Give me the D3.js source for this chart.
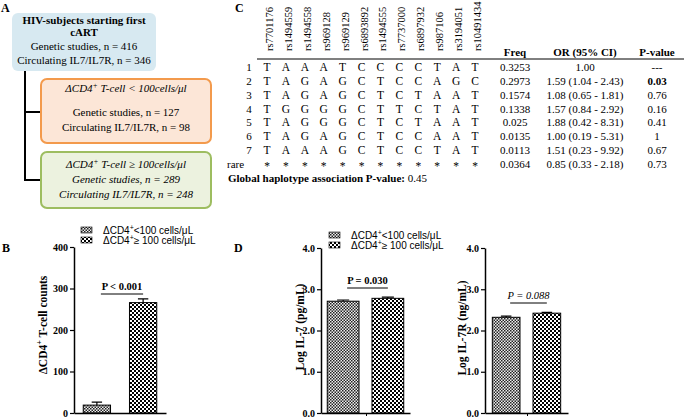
<!DOCTYPE html>
<html>
<head>
<meta charset="utf-8">
<script src="https://cdn.jsdelivr.net/npm/d3@7"></script>
<style>
  body { margin: 0; background: #fff; }
  svg { display: block; }
  text { fill: #000; }
</style>
</head>
<body>
<svg id="fig" width="685" height="418"></svg>
<script>
'use strict';

/* global d3 */

// panel A - study flow boxes
var flowTop = ['HIV-subjects starting first', 'cART', 'Genetic studies, n = 416', 'Circulating IL7/IL7R, n = 346'];
var flowLow = ['< 100cells/\u03bcl', 'Genetic studies, n = 127', 'Circulating IL7/IL7R, n = 98'];
var flowHigh = ['\u2265 100cells/\u03bcl', 'Genetic studies, n = 289', 'Circulating IL7/IL7R, n = 248'];

// panel C - haplotype table
var snps = ['rs7701176', 'rs1494559', 'rs1494558', 'rs969128', 'rs969129', 'rs6893892',
  'rs1494555', 'rs7737000', 'rs6897932', 'rs987106', 'rs3194051', 'rs10491434'];
var haploLabels = ['1', '2', '3', '4', '5', '6', '7', 'rare'];
var haplotypes = [
  'TAAATCCCCTAT',
  'TAGAGCTCCAGC',
  'TAGAGCTCTAAT',
  'TGGGGCTTCTAT',
  'TAGGGCTCTAAT',
  'TAGAGCTCCAAT',
  'TAAAGCTCCTAT',
  '************'
];
var haploFreq = ['0.3253', '0.2973', '0.1574', '0.1338', '0.025', '0.0135', '0.0113', '0.0364'];
var haploOR = ['1.00', '1.59 (1.04 - 2.43)', '1.08 (0.65 - 1.81)', '1.57 (0.84 - 2.92)',
  '1.88 (0.42 - 8.31)', '1.00 (0.19 - 5.31)', '1.51 (0.23 - 9.92)', '0.85 (0.33 - 2.18)'];
var haploP = ['---', '0.03', '0.76', '0.16', '0.41', '1', '0.67', '0.73'];
var globalP = '0.45';

// panels B and D - bar charts
var groups = ['<100', '>=100'];
var legendTail = ['<100 cells/\u03bcL', '\u2265 100 cells/\u03bcL'];
var cd4Means = [19, 266];
var cd4Errors = [7, 9];
var cd4Ticks = [0, 100, 200, 300, 400];
var il7Means = [2.71, 2.78];
var il7Errors = [0.03, 0.03];
var il7rMeans = [2.32, 2.42];
var il7rErrors = [0.03, 0.02];
var logTicks = [0, 1, 2, 3, 4];

var SERIF = '"Liberation Serif", "Times New Roman", serif';
var SANS = '"Liberation Sans", Arial, sans-serif';

var svg = d3.select('#fig');

/*
 * fill patterns
 */
var defs = svg.append('defs');

// fine checker (reads as grey)
var fine = defs.append('pattern')
  .attr('id', 'fine').attr('patternUnits', 'userSpaceOnUse')
  .attr('width', 3).attr('height', 3);
fine.append('rect').attr('width', 3).attr('height', 3).attr('fill', '#eee');
fine.append('rect').attr('width', 1.5).attr('height', 1.5).attr('fill', '#222');
fine.append('rect').attr('x', 1.5).attr('y', 1.5).attr('width', 1.5).attr('height', 1.5).attr('fill', '#222');

// coarse checker
var coarse = defs.append('pattern')
  .attr('id', 'coarse').attr('patternUnits', 'userSpaceOnUse')
  .attr('width', 4).attr('height', 4);
coarse.append('rect').attr('width', 4).attr('height', 4).attr('fill', '#fff');
coarse.append('rect').attr('width', 2).attr('height', 2).attr('fill', '#000');
coarse.append('rect').attr('x', 2).attr('y', 2).attr('width', 2).attr('height', 2).attr('fill', '#000');

var fills = ['url(#fine)', 'url(#coarse)'];

// panel letters
function panelLetter(t, x, y) {
  svg.append('text').attr('x', x).attr('y', y)
    .style('font', 'bold 12px ' + SERIF).text(t);
}
panelLetter('A', 1, 12);
panelLetter('C', 235, 12);
panelLetter('B', 2, 252);
panelLetter('D', 234, 252);

// write "ΔCD4+" with a raised plus into a text element
function deltaCD4(sel, size) {
  sel.append('tspan').text('\u0394CD4');
  sel.append('tspan').attr('dy', -size * 0.4).style('font-size', (size * 0.7) + 'px').text('+');
  return sel.append('tspan').attr('dy', size * 0.4);
}

/*
 * panel A
 */
var gA = svg.append('g');

// connector lines
gA.append('path')
  .attr('d', 'M25,71V180H40M25,112H40')
  .attr('fill', 'none').attr('stroke', '#000').attr('stroke-width', 2);

gA.append('rect').attr('x', 12).attr('y', 13).attr('width', 144).attr('height', 58)
  .attr('rx', 6).attr('fill', '#d7e9f1');
gA.selectAll('text.top').data(flowTop).enter().append('text')
  .attr('class', 'top')
  .attr('x', 84).attr('y', function(d, i) { return [24, 36, 50, 64][i]; })
  .attr('text-anchor', 'middle')
  .style('font', function(d, i) { return (i < 2 ? 'bold ' : '') + '11px ' + SERIF; })
  .text(function(d) { return d; });

function flowBox(lines, y, h, fill, stroke, italic) {
  gA.append('rect').attr('x', 41).attr('y', y).attr('width', 170).attr('height', h)
    .attr('rx', 6).attr('fill', fill).attr('stroke', stroke).attr('stroke-width', 2);
  lines.forEach(function(line, i) {
    var t = gA.append('text')
      .attr('x', 126).attr('y', italic ? y + 16 + i * 15 : y + 13 + i * 15 + (i > 0 ? 9 : 0))
      .attr('text-anchor', 'middle')
      .style('font', (italic || i === 0 ? 'italic ' : '') + '11px ' + SERIF);
    if (i === 0) {
      deltaCD4(t, 11).text(' T-cell ' + line);
    } else {
      t.text(line);
    }
  });
}
flowBox(flowLow, 79, 64, '#fce6d7', '#f39a4c', false);
flowBox(flowHigh, 152, 56, '#ecf2df', '#9dbd60', true);

/*
 * panel C
 */
var gC = svg.append('g');
var colX = d3.scalePoint().domain(snps).range([267, 475]);
var rowY = d3.scalePoint().domain(haploLabels).range([71, 168]);
var statX = { freq: 515, or: 585, p: 657 };

gC.selectAll('text.snp').data(snps).enter().append('text')
  .attr('class', 'snp')
  .attr('transform', function(d) { return 'translate(' + (colX(d) + 6) + ',51) rotate(-90)'; })
  .style('font', '10.5px ' + SERIF)
  .text(function(d) { return d; });

gC.selectAll('text.head').data([['Freq', statX.freq], ['OR (95% CI)', statX.or], ['P-value', statX.p]])
  .enter().append('text')
  .attr('class', 'head')
  .attr('x', function(d) { return d[1]; }).attr('y', 56)
  .attr('text-anchor', 'middle')
  .style('font', 'bold 11px ' + SERIF)
  .text(function(d) { return d[0]; });

gC.append('line')
  .attr('x1', 257).attr('x2', 684).attr('y1', 59).attr('y2', 59)
  .attr('stroke', '#000').attr('stroke-width', 1);

var rows = gC.selectAll('g.row').data(haploLabels).enter().append('g')
  .attr('class', 'row')
  .attr('transform', function(d) { return 'translate(0,' + rowY(d) + ')'; });

rows.append('text')
  .attr('x', function(d) { return d === 'rare' ? 227 : 249; })
  .attr('text-anchor', function(d) { return d === 'rare' ? 'start' : 'middle'; })
  .style('font', '11px ' + SERIF)
  .text(function(d) { return d; });

rows.selectAll('text.allele')
  .data(function(d, i) { return haplotypes[i].split(''); })
  .enter().append('text')
  .attr('class', 'allele')
  .attr('x', function(d, j) { return colX(snps[j]); })
  .attr('dy', function(d) { return d === '*' ? 2 : 0; })
  .attr('text-anchor', 'middle')
  .style('font', '11.5px ' + SERIF)
  .text(function(d) { return d; });

rows.append('text')
  .attr('x', statX.freq).attr('text-anchor', 'middle')
  .style('font', '11px ' + SERIF)
  .text(function(d, i) { return haploFreq[i]; });
rows.append('text')
  .attr('x', statX.or).attr('text-anchor', 'middle')
  .style('font', '11px ' + SERIF)
  .text(function(d, i) { return haploOR[i]; });
rows.append('text')
  .attr('x', statX.p).attr('text-anchor', 'middle')
  .style('font', function(d, i) { return (+haploP[i] < 0.05 ? 'bold ' : '') + '11px ' + SERIF; })
  .text(function(d, i) { return haploP[i]; });

var gl = gC.append('text').attr('x', 228).attr('y', 182).style('font', '11px ' + SERIF);
gl.append('tspan').style('font-weight', 'bold').text('Global haplotype association P-value:');
gl.append('tspan').text(' ' + globalP);

/*
 * panels B and D - bar charts
 */
function legend(x, y) {
  groups.forEach(function(g, i) {
    svg.append('rect')
      .attr('x', x).attr('y', y + i * 10).attr('width', 11).attr('height', 6)
      .attr('fill', fills[i]).attr('stroke', '#000').attr('stroke-width', 0.6);
    var t = svg.append('text')
      .attr('x', x + 22).attr('y', y + 7 + i * 10)
      .style('font', '10px ' + SANS);
    deltaCD4(t, 10).text(legendTail[i]);
  });
}

function barChart(opt) {
  var g = svg.append('g');

  var x = d3.scaleBand().domain(groups)
    .range(opt.xRange).paddingInner(opt.padIn).paddingOuter(opt.padOut);
  var y = d3.scaleLinear().domain([0, opt.ticks[opt.ticks.length - 1]]).range([413, opt.yTop]);

  // bars
  g.selectAll('rect.bar').data(opt.means).enter().append('rect')
    .attr('class', 'bar')
    .attr('x', function(d, i) { return x(groups[i]); })
    .attr('y', function(d) { return y(d); })
    .attr('width', x.bandwidth())
    .attr('height', function(d) { return y(0) - y(d); })
    .attr('fill', function(d, i) { return fills[i]; })
    .attr('stroke', '#000').attr('stroke-width', 1);

  // error bars (upper only)
  var capW = x.bandwidth() * 0.38;
  opt.means.forEach(function(m, i) {
    var cx = x(groups[i]) + x.bandwidth() / 2;
    g.append('path')
      .attr('d', 'M' + cx + ',' + y(m) + 'V' + y(m + opt.errors[i]) +
        'M' + (cx - capW / 2) + ',' + y(m + opt.errors[i]) + 'H' + (cx + capW / 2))
      .attr('fill', 'none').attr('stroke', '#000').attr('stroke-width', 1.2);
  });

  // axes
  var yAxis = g.append('g')
    .attr('transform', 'translate(' + opt.xRange[0] + ',0)')
    .call(d3.axisLeft(y).tickValues(opt.ticks).tickSize(4).tickSizeOuter(0).tickPadding(2));
  yAxis.select('.domain').attr('stroke-width', 1.5);
  yAxis.selectAll('.tick line').attr('stroke-width', 1.2);
  yAxis.selectAll('.tick text').style('font', 'bold 10px ' + SERIF).attr('fill', '#000');

  var xAxis = g.append('g')
    .attr('transform', 'translate(0,413)')
    .call(d3.axisBottom(x).tickValues([]).tickSizeOuter(0));
  xAxis.select('.domain').attr('stroke-width', 1.5);
  if (opt.midTick) {
    var mid = (opt.xRange[0] + opt.xRange[1]) / 2 + 1;
    g.append('line').attr('x1', mid).attr('x2', mid).attr('y1', 413).attr('y2', 416)
      .attr('stroke', '#000').attr('stroke-width', 1);
  }

  // y label
  var lab = g.append('text')
    .attr('transform', 'translate(' + opt.labelX + ',' + opt.labelY + ') rotate(-90)')
    .attr('text-anchor', 'middle')
    .style('font', 'bold 11.5px ' + SERIF);
  if (opt.cd4Label) {
    deltaCD4(lab, 11.5).text(' T-cell counts');
  } else {
    lab.text(opt.label);
  }

  // significance line
  var c0 = x(groups[0]) + x.bandwidth() / 2 + 4;
  var c1 = x(groups[1]) + x.bandwidth() / 2;
  g.append('line')
    .attr('x1', c0).attr('x2', c1).attr('y1', opt.pY).attr('y2', opt.pY)
    .attr('stroke', '#000').attr('stroke-width', 1);
  g.append('text')
    .attr('x', (c0 + c1) / 2).attr('y', opt.pY - 4)
    .attr('text-anchor', 'middle')
    .style('font', (opt.pItalic ? 'italic ' : 'bold ') + '10.5px ' + SERIF)
    .text(opt.pText);
}

barChart({
  xRange: [74, 166], padIn: 0.41, padOut: 0.2,
  ticks: cd4Ticks, yTop: 247,
  means: cd4Means, errors: cd4Errors,
  cd4Label: true, labelX: 47, labelY: 325,
  pText: 'P < 0.001', pY: 294
});
legend(81, 227);

barChart({
  xRange: [321, 410], padIn: 0.29, padOut: 0.14,
  ticks: logTicks, yTop: 248,
  means: il7Means, errors: il7Errors,
  label: 'Log IL-7 (pg/mL)', labelX: 304, labelY: 327,
  pText: 'P = 0.030', pY: 288, midTick: true
});
legend(329, 232);

barChart({
  xRange: [485, 568], padIn: 0.32, padOut: 0.18,
  ticks: logTicks, yTop: 248,
  means: il7rMeans, errors: il7rErrors,
  label: 'Log IL-7R (ng/mL)', labelX: 466, labelY: 328,
  pText: 'P = 0.088', pItalic: true, pY: 303, midTick: true
});
</script>
</body>
</html>
